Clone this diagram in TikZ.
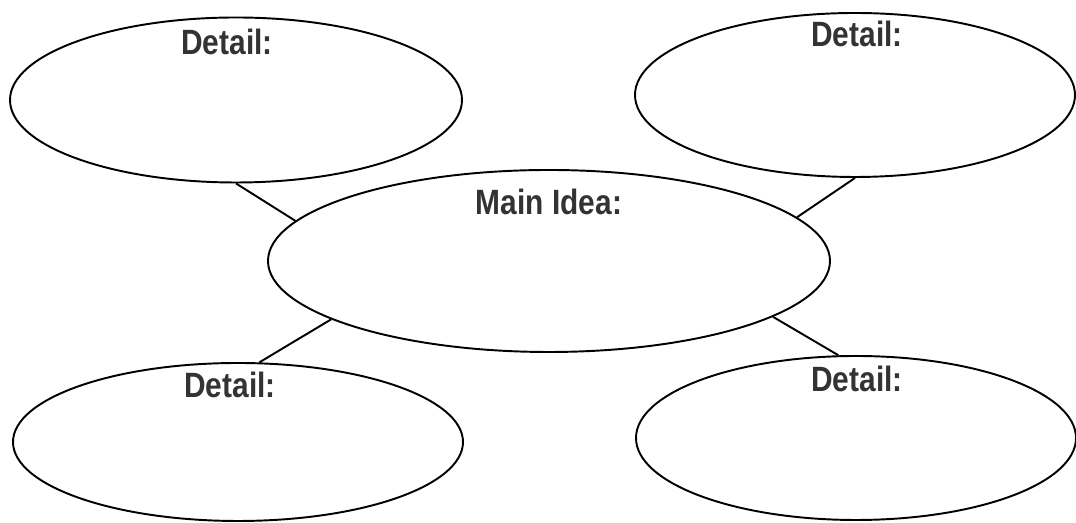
\documentclass[tikz,border=0pt]{standalone}
\usepackage{fontspec}
\newfontfamily\lblfont{Liberation Sans}[FakeStretch=0.85]
\usetikzlibrary{shapes.geometric}

\begin{document}
\begin{tikzpicture}[
	bubble/.style={shape=ellipse, draw, line width=1.1pt, inner sep=0pt},
	lbl/.style={font=\lblfont\bfseries\fontsize{20}{24}\selectfont, text=black!80, inner sep=0pt, anchor=center},
	link/.style={line width=1.1pt}]
	\useasboundingbox (0, 0) rectangle (21.52, 10.46);
	% Ellipses:
	\node[bubble, minimum width=11.24cm, minimum height=3.64cm] (main) at (10.98, 5.24){};
	\node[bubble, minimum width=9.04cm, minimum height=3.30cm] (dtlTL) at (4.72, 8.46){};
	\node[bubble, minimum width=8.80cm, minimum height=3.28cm] (dtlTR) at (17.10, 8.56){};
	\node[bubble, minimum width=9.00cm, minimum height=3.16cm] (dtlBL) at (4.76, 1.62){};
	\node[bubble, minimum width=8.80cm, minimum height=3.28cm] (dtlBR) at (17.12, 1.70){};
	% Labels:
	\node[lbl] (tMain) at (10.98, 6.42){Main Idea:};
	\node[lbl] (tTL) at (4.54, 9.62){Detail:};
	\node[lbl] (tTR) at (17.14, 9.78){Detail:};
	\node[lbl] (tBL) at (4.60, 2.76){Detail:};
	\node[lbl] (tBR) at (17.14, 2.88){Detail:};
	% Connectors:
	\draw[link] (dtlTL.south) -- (main.171);
	\draw[link] (dtlTR.south) -- (main.10);
	\draw[link] (dtlBL.75) -- (main.195);
	\draw[link] (dtlBR.102) -- (main.346);
\end{tikzpicture}
\end{document}
